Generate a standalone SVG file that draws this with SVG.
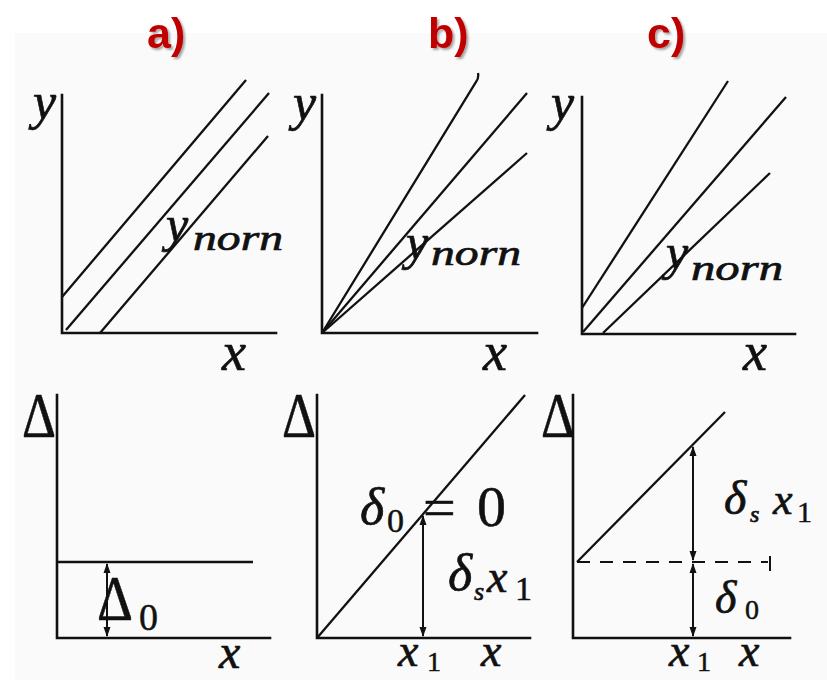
<svg xmlns="http://www.w3.org/2000/svg" width="827" height="680" viewBox="0 0 827 680">
<style>
.ax{stroke:#111;stroke-width:2.6;fill:none;stroke-linecap:square}
.ln{stroke:#111;stroke-width:2.3;fill:none}
.arr{stroke:#111;stroke-width:2;fill:none}
.m{font-family:"Liberation Serif","Times New Roman",serif;font-style:italic;fill:#111;stroke:#111;stroke-width:0.7}
.u{font-family:"Liberation Serif","Times New Roman",serif;fill:#111;stroke:#111;stroke-width:0.5}
.lab{font-family:"Liberation Sans",Arial,sans-serif;font-weight:bold;font-size:43px;fill:#C00000}
</style>
<defs>
<marker id="ah" viewBox="0 0 10 10" refX="9" refY="5" markerWidth="5" markerHeight="5" orient="auto-start-reverse" markerUnits="strokeWidth">
<path d="M0,1.5 L10,5 L0,8.5 Z" fill="#111"/>
</marker>
<filter id="sh" x="-20%" y="-20%" width="140%" height="140%">
<feDropShadow dx="2" dy="2" stdDeviation="1.2" flood-color="#000" flood-opacity="0.35"/>
</filter>
</defs>
<rect x="0" y="0" width="827" height="680" fill="#fff"/>
<rect x="15" y="33" width="812" height="647" fill="#fafafa"/>

<g id="titles" filter="url(#sh)">
<text class="lab" x="147" y="48">a)</text>
<text class="lab" x="428" y="48">b)</text>
<text class="lab" x="647" y="48">c)</text>
</g>

<g id="panel-a-top">
<path class="ax" d="M62,95 V333 H276"/>
<text class="m" x="33" y="119" font-size="52">y</text>
<text class="m" x="222" y="370" font-size="54">x</text>
<text class="m" x="166" y="241" font-size="50">y</text>
<text class="m" x="193" y="250" font-size="36" textLength="90" lengthAdjust="spacingAndGlyphs">norn</text>
</g>
<g id="panel-b-top">
<path class="ax" d="M322,95 V333 H537"/>
<text class="m" x="293" y="120" font-size="52">y</text>
<text class="m" x="483" y="370" font-size="54">x</text>
<text class="m" x="406" y="259" font-size="50">y</text>
<text class="m" x="431" y="265" font-size="36" textLength="90" lengthAdjust="spacingAndGlyphs">norn</text>
</g>
<g id="panel-c-top">
<path class="ax" d="M582,97 V334 H795"/>
<text class="m" x="551" y="120" font-size="52">y</text>
<text class="m" x="743" y="370" font-size="54">x</text>
<text class="m" x="666" y="269" font-size="50">y</text>
<text class="m" x="691" y="280" font-size="36" textLength="92" lengthAdjust="spacingAndGlyphs">norn</text>
</g>

<g id="panel-a-bottom">
<path class="ax" d="M57,395 V638 H270"/>
<text class="u" x="22" y="437" font-size="64" textLength="34" lengthAdjust="spacingAndGlyphs">Δ</text>
<text class="m" x="219" y="668" font-size="48">x</text>
<text class="u" x="97" y="620" font-size="64" textLength="36" lengthAdjust="spacingAndGlyphs">Δ</text>
<text class="u" x="139" y="630" font-size="38">0</text>
</g>
<g id="panel-b-bottom">
<path class="ax" d="M317,395 V638 H530"/>
<text class="u" x="282" y="437" font-size="64" textLength="34" lengthAdjust="spacingAndGlyphs">Δ</text>
<text class="m" x="360" y="524" font-size="52">δ</text>
<text class="u" x="387" y="532" font-size="34">0</text>
<text class="u" x="423" y="527" font-size="58">=</text>
<text class="u" x="477" y="526" font-size="58">0</text>
<text class="m" x="448" y="590" font-size="52">δ</text>
<text class="m" x="474" y="600" font-size="26">s</text>
<text class="m" x="487" y="592" font-size="46">x</text>
<text class="u" x="515" y="600" font-size="34">1</text>
<text class="m" x="398" y="666" font-size="46">x</text>
<text class="u" x="427" y="671" font-size="28">1</text>
<text class="m" x="481" y="666" font-size="46">x</text>
</g>
<g id="panel-c-bottom">
<path class="ax" d="M573,395 V638 H790"/>
<text class="u" x="541" y="437" font-size="64" textLength="34" lengthAdjust="spacingAndGlyphs">Δ</text>
<path d="M577,562 H768" stroke="#111" stroke-width="2.2" stroke-dasharray="13,10" fill="none"/>
<path d="M770,556 V571" stroke="#111" stroke-width="2" fill="none"/>
<text class="m" x="724" y="514" font-size="48">δ</text>
<text class="m" x="750" y="522" font-size="24">s</text>
<text class="m" x="773" y="514" font-size="44">x</text>
<text class="u" x="797" y="522" font-size="30">1</text>
<text class="m" x="715" y="613" font-size="46">δ</text>
<text class="u" x="745" y="619" font-size="28">0</text>
<text class="m" x="669" y="666" font-size="46">x</text>
<text class="u" x="697" y="671" font-size="28">1</text>
<text class="m" x="739" y="666" font-size="46">x</text>
</g>

<g id="connectors">
<line class="ln" x1="62" y1="297" x2="246" y2="80"/>
<line class="ln" x1="66" y1="330" x2="269" y2="93"/>
<line class="ln" x1="100" y1="333" x2="268" y2="136"/>
<path class="ln" d="M322,333 L476,82 Q479,78 478,73"/>
<line class="ln" x1="322" y1="333" x2="527" y2="93"/>
<line class="ln" x1="322" y1="333" x2="527" y2="153"/>
<line class="ln" x1="582" y1="308" x2="728" y2="81"/>
<line class="ln" x1="583" y1="332" x2="786" y2="97"/>
<line class="ln" x1="603" y1="333" x2="770" y2="173"/>
<line class="ln" x1="57" y1="562" x2="253" y2="562"/>
<line class="arr" x1="107" y1="564" x2="107" y2="636" marker-start="url(#ah)" marker-end="url(#ah)"/>
<line class="ln" x1="317" y1="638" x2="525" y2="395"/>
<line class="arr" x1="423" y1="516" x2="423" y2="636" marker-start="url(#ah)" marker-end="url(#ah)"/>
<line class="ln" x1="577" y1="562" x2="725" y2="412"/>
<line class="arr" x1="693" y1="447" x2="693" y2="560" marker-start="url(#ah)" marker-end="url(#ah)"/>
<line class="arr" x1="693" y1="564" x2="693" y2="636" marker-start="url(#ah)" marker-end="url(#ah)"/>
</g>
</svg>
